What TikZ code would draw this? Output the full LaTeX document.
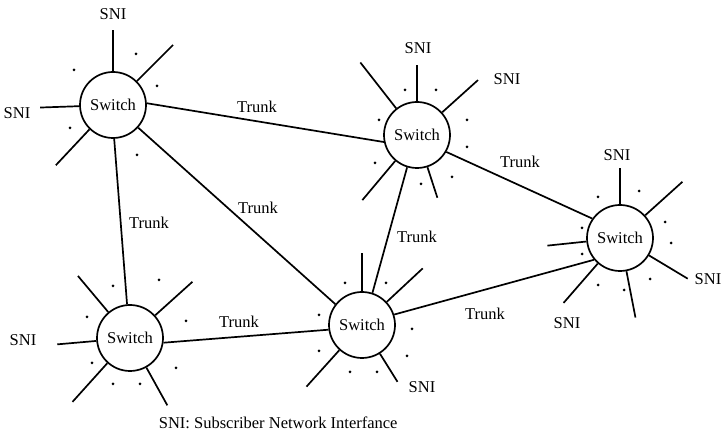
\documentclass[tikz,border=0pt]{standalone}
\usepackage{fontspec}
\setmainfont{Liberation Serif}
\begin{document}
\begin{tikzpicture}[x=1pt,y=1pt,line width=1.7pt,
  sw/.style={circle,draw,minimum size=66pt,inner sep=0pt,font=\fontsize{16.5}{18}\selectfont},
  lbl/.style={font=\fontsize{16.5}{18}\selectfont,inner sep=0pt},
  dotmark/.style={fill=black}]
\useasboundingbox (0,0) rectangle (724,-443);
% switches
\node[sw] (s1) at (113,-105) {Switch};
\node[sw] (s2) at (417,-135) {Switch};
\node[sw] (s3) at (620,-238) {Switch};
\node[sw] (s4) at (130,-338) {Switch};
\node[sw] (s5) at (362,-325) {Switch};
% trunks
\draw (s1.3) -- (s2.192);
\draw (s1.272) -- (s4.95);
\draw (s1.318) -- (s5.142);
\draw (s2.330) -- (s3.145);
\draw (s2.253) -- (s5.72);
\draw (s4.352) -- (s5.188);
\draw (s5.18) -- (s3.220);
% spokes
\foreach \a/\l in {90/75, 45/85, 182/73, 226.5/83}
  \draw (s1.\a) -- ([shift={(\a:\l)}]s1.center);
\foreach \a/\l in {90/70, 42/82, 128/92, 230/85, 288/66}
  \draw (s2.\a) -- ([shift={(\a:\l)}]s2.center);
\foreach \a/\l in {90/70, 42/84, 186/73, 229/86, 281/81, 329/79}
  \draw (s3.\a) -- ([shift={(\a:\l)}]s3.center);
\foreach \a/\l in {130/81, 42/84, 185/73, 228/86, 299/77}
  \draw (s4.\a) -- ([shift={(\a:\l)}]s4.center);
\foreach \a/\l in {90/72, 43/83, 228/83, 302/67}
  \draw (s5.\a) -- ([shift={(\a:\l)}]s5.center);
% dots
\foreach \x/\y in {74/70, 136/54, 157/86, 70/128, 137/155,
  405/90, 436/90, 379/120, 467/120, 467/147, 375/163, 421/184, 452/177,
  598/197, 639/191, 582/228, 665/222, 671/243, 582/254, 598/285, 624/290, 650/279,
  113/286, 159/280, 87/317, 186/321, 92/363, 176/368, 113/384, 140/384,
  345/283, 386/283, 319/315, 412/329, 319/351, 407/356, 350/372, 377/372}
  \fill[dotmark] (\x,-\y) circle (1.5pt);
% SNI labels
\node[lbl] (n1) at (113,-14) {SNI};
\node[lbl] (n2) at (17,-113) {SNI};
\node[lbl] (n3) at (418,-48) {SNI};
\node[lbl] (n4) at (507,-79) {SNI};
\node[lbl] (n5) at (617,-155) {SNI};
\node[lbl] (n6) at (708,-279) {SNI};
\node[lbl] (n7) at (567,-323) {SNI};
\node[lbl] (n8) at (23,-340) {SNI};
\node[lbl] (n9) at (422,-387) {SNI};
% trunk labels
\node[lbl] (t1) at (257,-107) {Trunk};
\node[lbl] (t2) at (258,-208) {Trunk};
\node[lbl] (t3) at (149,-223) {Trunk};
\node[lbl] (t4) at (520,-162) {Trunk};
\node[lbl] (t5) at (417,-237) {Trunk};
\node[lbl] (t6) at (239,-322) {Trunk};
\node[lbl] (t7) at (485,-314) {Trunk};
% caption
\node[lbl,anchor=west] (cap) at (158,-423) {SNI: Subscriber Network Interfance};
\end{tikzpicture}
\end{document}
